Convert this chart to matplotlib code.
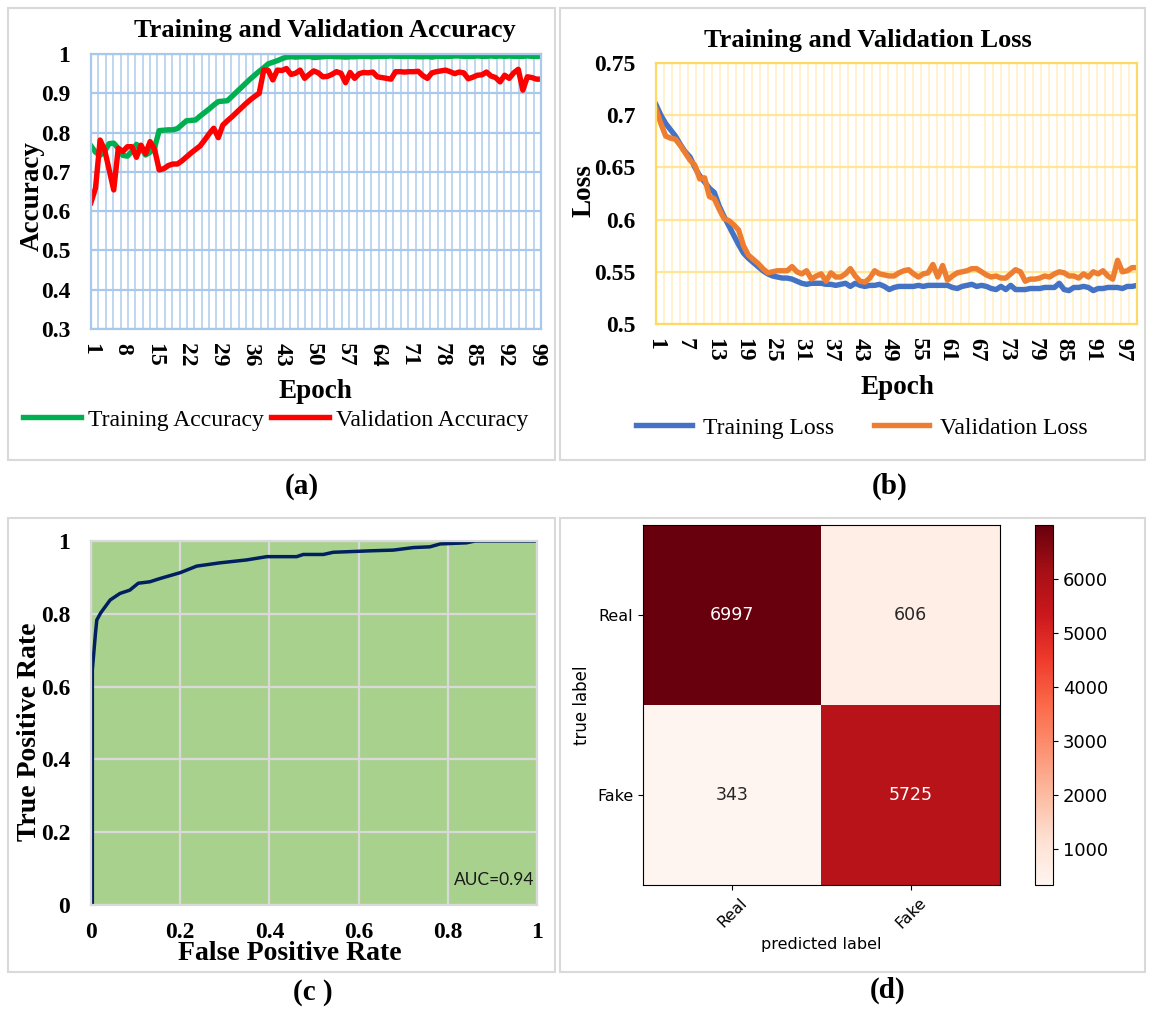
import numpy as np
import matplotlib.pyplot as plt
from matplotlib.patches import Rectangle

W, H = 1149, 1010
SERIF = 'Liberation Serif'

# ---- data ----
epochs = np.arange(1, 101)

train_acc = [0.766, 0.750, 0.742, 0.752, 0.772, 0.773, 0.760, 0.742, 0.740, 0.752,
             0.770, 0.762, 0.743, 0.750, 0.762, 0.805, 0.806, 0.807, 0.807, 0.810,
             0.820, 0.830, 0.831, 0.832, 0.842, 0.851, 0.860, 0.870, 0.879, 0.880,
             0.881, 0.892, 0.903, 0.914, 0.925, 0.936, 0.946, 0.956, 0.965, 0.975,
             0.979, 0.983, 0.988, 0.992, 0.993, 0.992, 0.993, 0.993, 0.994, 0.991,
             0.992, 0.993, 0.994, 0.994, 0.993, 0.993, 0.992, 0.993, 0.993, 0.994,
             0.994, 0.994, 0.993, 0.994, 0.994, 0.994, 0.995, 0.994, 0.994, 0.994,
             0.994, 0.994, 0.993, 0.993, 0.994, 0.992, 0.994, 0.994, 0.994, 0.994,
             0.995, 0.995, 0.994, 0.994, 0.994, 0.995, 0.994, 0.994, 0.995, 0.994,
             0.995, 0.994, 0.995, 0.994, 0.994, 0.994, 0.995, 0.994, 0.994, 0.994]

val_acc = [0.622, 0.659, 0.781, 0.756, 0.705, 0.654, 0.760, 0.752, 0.764, 0.764,
           0.737, 0.768, 0.746, 0.777, 0.757, 0.705, 0.708, 0.716, 0.720, 0.720,
           0.728, 0.738, 0.748, 0.757, 0.766, 0.781, 0.797, 0.811, 0.787, 0.819,
           0.830, 0.840, 0.851, 0.862, 0.873, 0.883, 0.892, 0.900, 0.959, 0.958,
           0.934, 0.959, 0.958, 0.963, 0.948, 0.951, 0.959, 0.938, 0.948, 0.957,
           0.952, 0.942, 0.943, 0.948, 0.955, 0.951, 0.927, 0.953, 0.938, 0.950,
           0.953, 0.952, 0.954, 0.942, 0.940, 0.938, 0.936, 0.955, 0.955, 0.954,
           0.955, 0.955, 0.956, 0.945, 0.938, 0.952, 0.955, 0.957, 0.959, 0.955,
           0.950, 0.954, 0.952, 0.937, 0.941, 0.946, 0.947, 0.954, 0.944, 0.940,
           0.929, 0.946, 0.938, 0.952, 0.961, 0.908, 0.942, 0.940, 0.936, 0.936]

train_loss = [0.710, 0.700, 0.692, 0.686, 0.680, 0.672, 0.665, 0.660, 0.650, 0.642,
              0.636, 0.630, 0.626, 0.613, 0.603, 0.594, 0.585, 0.576, 0.568, 0.563,
              0.559, 0.555, 0.551, 0.548, 0.546, 0.545, 0.544, 0.544, 0.543, 0.541,
              0.539, 0.538, 0.539, 0.539, 0.539, 0.538, 0.538, 0.537, 0.538, 0.539,
              0.536, 0.539, 0.537, 0.536, 0.537, 0.537, 0.538, 0.536, 0.533, 0.535,
              0.536, 0.536, 0.536, 0.536, 0.537, 0.536, 0.537, 0.537, 0.537, 0.537,
              0.537, 0.535, 0.534, 0.536, 0.537, 0.538, 0.536, 0.537, 0.536, 0.534,
              0.533, 0.536, 0.533, 0.537, 0.533, 0.533, 0.533, 0.534, 0.534, 0.534,
              0.535, 0.535, 0.535, 0.539, 0.533, 0.532, 0.535, 0.535, 0.536, 0.535,
              0.532, 0.534, 0.534, 0.535, 0.535, 0.535, 0.534, 0.536, 0.536, 0.537]

val_loss = [0.706, 0.692, 0.680, 0.678, 0.677, 0.671, 0.664, 0.657, 0.652, 0.639,
            0.640, 0.622, 0.620, 0.610, 0.601, 0.599, 0.595, 0.590, 0.575, 0.566,
            0.562, 0.558, 0.553, 0.549, 0.550, 0.551, 0.551, 0.551, 0.555, 0.550,
            0.548, 0.551, 0.543, 0.546, 0.548, 0.541, 0.549, 0.545, 0.545, 0.548,
            0.553, 0.546, 0.541, 0.540, 0.544, 0.551, 0.548, 0.547, 0.546, 0.546,
            0.549, 0.551, 0.552, 0.548, 0.545, 0.548, 0.549, 0.557, 0.545, 0.556,
            0.542, 0.546, 0.549, 0.550, 0.551, 0.553, 0.553, 0.550, 0.547, 0.545,
            0.546, 0.544, 0.544, 0.548, 0.552, 0.550, 0.541, 0.543, 0.543, 0.544,
            0.546, 0.545, 0.548, 0.550, 0.549, 0.546, 0.546, 0.544, 0.548, 0.545,
            0.550, 0.548, 0.551, 0.546, 0.543, 0.561, 0.550, 0.551, 0.554, 0.554]

roc_fpr = [0.0, 0.003, 0.003, 0.010, 0.013, 0.022, 0.043, 0.065, 0.087, 0.106,
           0.132, 0.155, 0.200, 0.237, 0.289, 0.349, 0.394, 0.461, 0.476, 0.521,
           0.543, 0.626, 0.678, 0.723, 0.760, 0.783, 0.842, 0.861, 1.0]
roc_tpr = [0.0, 0.0, 0.646, 0.746, 0.783, 0.803, 0.838, 0.856, 0.865, 0.884,
           0.888, 0.897, 0.913, 0.931, 0.940, 0.948, 0.957, 0.957, 0.963, 0.963,
           0.969, 0.973, 0.975, 0.982, 0.984, 0.992, 0.995, 1.0, 1.0]
auc_value = 0.94

cm_labels = ['Real', 'Fake']
cm_values = np.array([[6997, 606], [343, 5725]])
cbar_ticks = [1000, 2000, 3000, 4000, 5000, 6000]

# ---- helpers (pixel layout) ----
fig = plt.figure(figsize=(W / 100, H / 100), dpi=100)


def box(l, t, r, b):
    return [l / W, 1 - b / H, (r - l) / W, (b - t) / H]


def ftext(x, y, s, **kw):
    fig.text(x / W, 1 - y / H, s, ha='center', va='center', **kw)


def serif_ticks(ax, size=17):
    for lbl in ax.get_xticklabels() + ax.get_yticklabels():
        lbl.set_fontfamily(SERIF)
        lbl.set_fontweight('bold')
        lbl.set_fontsize(size)


fmt = lambda v, p: f'{v:g}'

# panel frames
for l, t, r, b in [(8, 8, 555, 460), (560, 8, 1145, 460),
                   (8, 518, 555, 972), (560, 518, 1145, 972)]:
    fig.patches.append(Rectangle((l / W, 1 - b / H), (r - l) / W, (b - t) / H,
                                 transform=fig.transFigure, fill=False,
                                 edgecolor='#D9D9D9', lw=1.5))

# ---- (a) accuracy ----
ax = fig.add_axes(box(91, 54, 541, 329))
ax.plot(epochs, train_acc, color='#00B050', lw=3.9, label='Training Accuracy')
ax.plot(epochs, val_acc, color='#FF0000', lw=3.9, label='Validation Accuracy')
ax.set_xlim(1, 100)
ax.set_ylim(0.3, 1.0)
ax.set_xticks(np.arange(1, 100, 7))
ax.set_xticks(np.linspace(1, 100, 62), minor=True)
ax.set_yticks(np.arange(0.3, 1.001, 0.1))
ax.yaxis.set_major_formatter(fmt)
ax.grid(which='major', axis='y', color='#A9C9EC', lw=1.6)
ax.grid(which='minor', axis='x', color='#B4D0EE', lw=1.2)
ax.set_axisbelow(True)
for s in ax.spines.values():
    s.set_color('#A9C9EC')
    s.set_linewidth(1.6)
ax.tick_params(which='both', length=0)
ax.tick_params(axis='y', pad=15)
ax.tick_params(axis='x', pad=10, labelrotation=-90)
serif_ticks(ax)
ax.legend(loc='center', bbox_to_anchor=(276 / W, 1 - 420 / H), bbox_transform=fig.transFigure,
          ncol=2, frameon=False, prop={'family': SERIF, 'size': 17},
          handlelength=2.45, handletextpad=0.3, columnspacing=0.3, borderaxespad=0)
ftext(325, 30, 'Training and Validation Accuracy', family=SERIF, weight='bold', size=19)
ftext(315, 392, 'Epoch', family=SERIF, weight='bold', size=19.5)
ftext(32, 196, 'Accuracy', family=SERIF, weight='bold', size=19.5, rotation=90)
ftext(302, 486, '(a)', family=SERIF, weight='bold', size=21)

# ---- (b) loss ----
ax = fig.add_axes(box(656, 63, 1137, 324))
ax.plot(epochs, train_loss, color='#4472C4', lw=3.9, label='Training Loss')
ax.plot(epochs, val_loss, color='#ED7D31', lw=3.9, label='Validation Loss')
ax.set_xlim(1, 100)
ax.set_ylim(0.5, 0.75)
ax.set_xticks(np.arange(1, 100, 6))
ax.set_xticks(np.linspace(1, 100, 61), minor=True)
ax.set_yticks(np.arange(0.5, 0.7501, 0.05))
ax.yaxis.set_major_formatter(fmt)
ax.grid(which='major', axis='y', color='#FFE699', lw=1.6)
ax.grid(which='minor', axis='x', color='#FFF0C2', lw=1.2)
ax.set_axisbelow(True)
for s in ax.spines.values():
    s.set_color('#FFD966')
    s.set_linewidth(1.6)
ax.tick_params(which='both', length=0)
ax.tick_params(axis='y', pad=15)
ax.tick_params(axis='x', pad=10, labelrotation=-90)
serif_ticks(ax)
ax.legend(loc='center', bbox_to_anchor=(862 / W, 1 - 428 / H), bbox_transform=fig.transFigure,
          ncol=2, frameon=False, prop={'family': SERIF, 'size': 17},
          handlelength=2.35, handletextpad=0.45, columnspacing=1.7, borderaxespad=0)
ftext(868, 40, 'Training and Validation Loss', family=SERIF, weight='bold', size=19)
ftext(897, 388, 'Epoch', family=SERIF, weight='bold', size=19.5)
ftext(584, 191, 'Loss', family=SERIF, weight='bold', size=19.5, rotation=90)
ftext(890, 486, '(b)', family=SERIF, weight='bold', size=21)

# ---- (c) ROC ----
ax = fig.add_axes(box(91, 541, 537, 905))
ax.set_facecolor('#A9D18E')
ax.plot(roc_fpr, roc_tpr, color='#002060', lw=2.5)
ax.set_xlim(0, 1)
ax.set_ylim(0, 1)
ax.set_xticks(np.arange(0, 1.001, 0.2))
ax.set_yticks(np.arange(0, 1.001, 0.2))
ax.xaxis.set_major_formatter(fmt)
ax.yaxis.set_major_formatter(fmt)
ax.grid(color='#D9D9D9', lw=1.6)
ax.set_axisbelow(True)
for s in ax.spines.values():
    s.set_color('#D9D9D9')
    s.set_linewidth(1.6)
ax.tick_params(length=0)
ax.tick_params(axis='y', pad=15)
ax.tick_params(axis='x', pad=12)
serif_ticks(ax)
ax.text(0.995, 0.07, f'AUC={auc_value}', transform=ax.transAxes, ha='right', va='center',
        family='Lato', fontsize=12.5, color='#1a1a1a')
ftext(290, 953, 'False Positive Rate', family=SERIF, weight='bold', size=20)
ftext(30, 732, 'True Positive Rate', family=SERIF, weight='bold', size=20, rotation=90)
ftext(313, 992, '(c )', family=SERIF, weight='bold', size=21)

# ---- (d) confusion matrix ----
ax = fig.add_axes(box(643, 525, 1000, 885))
im = ax.imshow(cm_values, cmap='Reds', aspect='auto',
               vmin=cm_values.min(), vmax=cm_values.max())
thresh = cm_values.max() / 2
for i in range(2):
    for j in range(2):
        ax.text(j, i, str(cm_values[i, j]), ha='center', va='center', fontsize=12.5,
                color='white' if cm_values[i, j] > thresh else '#262626')
ax.set_xticks([0, 1])
ax.set_xticklabels(cm_labels, rotation=45, fontsize=11.5)
ax.set_yticks([0, 1])
ax.set_yticklabels(cm_labels, fontsize=11.5)
ax.set_xlabel('predicted label', fontsize=11.5)
ax.set_ylabel('true label', fontsize=12)
cax = fig.add_axes(box(1035, 525, 1053, 885))
cb = fig.colorbar(im, cax=cax, ticks=cbar_ticks)
cb.ax.tick_params(labelsize=13)
ftext(888, 990, '(d)', family=SERIF, weight='bold', size=21)

fig.savefig('out.png', dpi=100)
